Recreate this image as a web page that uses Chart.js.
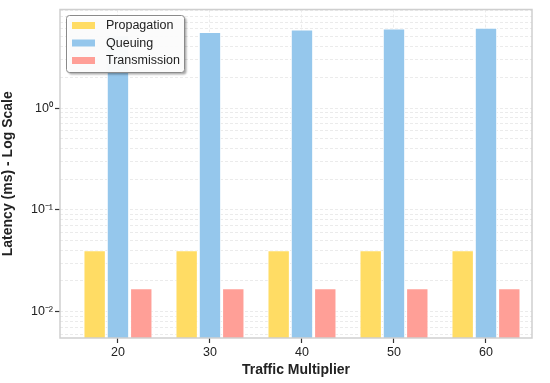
<!DOCTYPE html>
<html>
<head>
<meta charset="utf-8">
<script src="https://cdn.jsdelivr.net/npm/chart.js@4/dist/chart.umd.min.js"></script>
<style>
  html, body { margin: 0; padding: 0; background: #fff; }
  #wrap { width: 550px; height: 383px; }
</style>
</head>
<body>
<div id="wrap"><canvas id="myChart" width="550" height="383"></canvas></div>
<script>
// Datos
const categorias = [20, 30, 40, 50, 60];
const propagacion = [0.04, 0.04, 0.04, 0.04, 0.04];
const cola = [5.2, 5.6, 5.9, 6.05, 6.15];
const transmision = [0.017, 0.017, 0.017, 0.017, 0.017];
const yTicks = [0.01, 0.1, 1];
const yTickLabels = ['10⁻²', '10⁻¹', '10⁰'];

const FONT = "'Liberation Sans', Arial, sans-serif";

const puntos = (serie) => categorias.map((c, i) => ({ x: c, y: serie[i] }));

// Marco gris del area del grafico
const marcoPlugin = {
    id: 'marco',
    afterDatasetsDraw(chart) {
        const a = chart.chartArea;
        const ctx = chart.ctx;
        ctx.save();
        ctx.strokeStyle = '#cfcfcf';
        ctx.lineWidth = 1.5;
        ctx.strokeRect(a.left, a.top, a.right - a.left, a.bottom - a.top);
        ctx.restore();
    }
};

// Leyenda dentro del area (arriba a la izquierda)
const leyendaPlugin = {
    id: 'leyendaDentro',
    afterDraw(chart) {
        const ctx = chart.ctx;
        const a = chart.chartArea;
        const x = a.left + 6.5, y = a.top + 6, w = 118, h = 57;
        ctx.save();
        ctx.shadowColor = 'rgba(0,0,0,0.35)';
        ctx.shadowOffsetX = 2;
        ctx.shadowOffsetY = 2;
        ctx.shadowBlur = 2;
        ctx.fillStyle = 'rgba(255,255,255,0.95)';
        ctx.beginPath();
        ctx.roundRect(x, y, w, h, 3);
        ctx.fill();
        ctx.shadowColor = 'transparent';
        ctx.strokeStyle = '#8a8a8a';
        ctx.lineWidth = 1;
        ctx.stroke();
        ctx.font = '12.5px ' + FONT;
        ctx.textBaseline = 'middle';
        chart.data.datasets.forEach((ds, i) => {
            const cy = y + 10 + i * 17.5;
            ctx.fillStyle = ds.backgroundColor;
            ctx.fillRect(x + 5.5, cy - 3.5, 23, 7);
            ctx.fillStyle = '#222';
            ctx.fillText(ds.label, x + 39.5, cy + 0.5);
        });
        ctx.restore();
    }
};

const config = {
    type: 'bar',
    data: {
        datasets: [
            { label: 'Propagation', data: puntos(propagacion), backgroundColor: '#FFDC64', borderColor: '#ffffff', borderWidth: 1 },
            { label: 'Queuing', data: puntos(cola), backgroundColor: '#95C7EC', borderColor: '#ffffff', borderWidth: 1 },
            { label: 'Transmission', data: puntos(transmision), backgroundColor: '#FF9F97', borderColor: '#ffffff', borderWidth: 1 }
        ]
    },
    options: {
        responsive: false,
        animation: false,
        layout: { padding: { left: 0, right: 18, top: 7, bottom: 0 } },
        datasets: { bar: { categoryPercentage: 0.76, barPercentage: 0.96 } },
        scales: {
            x: {
                type: 'linear',
                offset: false,
                min: 13.7,
                max: 65.0,
                grid: {
                    offset: false,
                    color: '#ececec',
                    tickColor: '#333',
                    tickLength: 5,
                    tickWidth: 1.2
                },
                border: { display: false, dash: [3, 2] },
                ticks: { color: '#222', font: { family: FONT, size: 12.5 }, padding: 2 },
                afterBuildTicks(scale) {
                    scale.ticks = categorias.map((c) => ({ value: c }));
                },
                title: {
                    display: true, text: 'Traffic Multiplier', color: '#222',
                    font: { family: FONT, size: 14, weight: 'bold' }, padding: { top: 0, bottom: 4 }
                },
                afterFit(scale) { scale.height = 45; }
            },
            y: {
                type: 'logarithmic',
                min: 0.0055,
                max: 9.3,
                grid: {
                    color: '#ebebeb',
                    tickColor: (c) => (c.tick && yTicks.includes(c.tick.value) ? '#333' : 'rgba(0,0,0,0)'),
                    tickLength: 5,
                    tickWidth: 1.2
                },
                border: { display: false, dash: [3, 2] },
                ticks: {
                    autoSkip: false,
                    color: '#222',
                    font: { family: FONT, size: 12.5 },
                    padding: 2,
                    callback: (v) => {
                        const i = yTicks.indexOf(v);
                        return i >= 0 ? yTickLabels[i] : '';
                    }
                },
                afterBuildTicks(scale) {
                    // lineas menores de la cuadricula en cada decada
                    const ticks = [];
                    for (let e = -3; e <= 0; e++) {
                        for (let m = 1; m <= 9; m++) {
                            const v = parseFloat((m * Math.pow(10, e)).toPrecision(3));
                            if (v >= scale.min && v <= scale.max) ticks.push({ value: v });
                        }
                    }
                    scale.ticks = ticks;
                },
                title: {
                    display: true, text: 'Latency (ms) - Log Scale', color: '#222',
                    font: { family: FONT, size: 14, weight: 'bold' }, padding: { top: 0, bottom: 4 }
                },
                afterFit(scale) { scale.width = 60; }
            }
        },
        plugins: {
            legend: { display: false },
            tooltip: { enabled: false }
        }
    },
    plugins: [marcoPlugin, leyendaPlugin]
};

const myChart = new Chart(document.getElementById('myChart'), config);
</script>
</body>
</html>
